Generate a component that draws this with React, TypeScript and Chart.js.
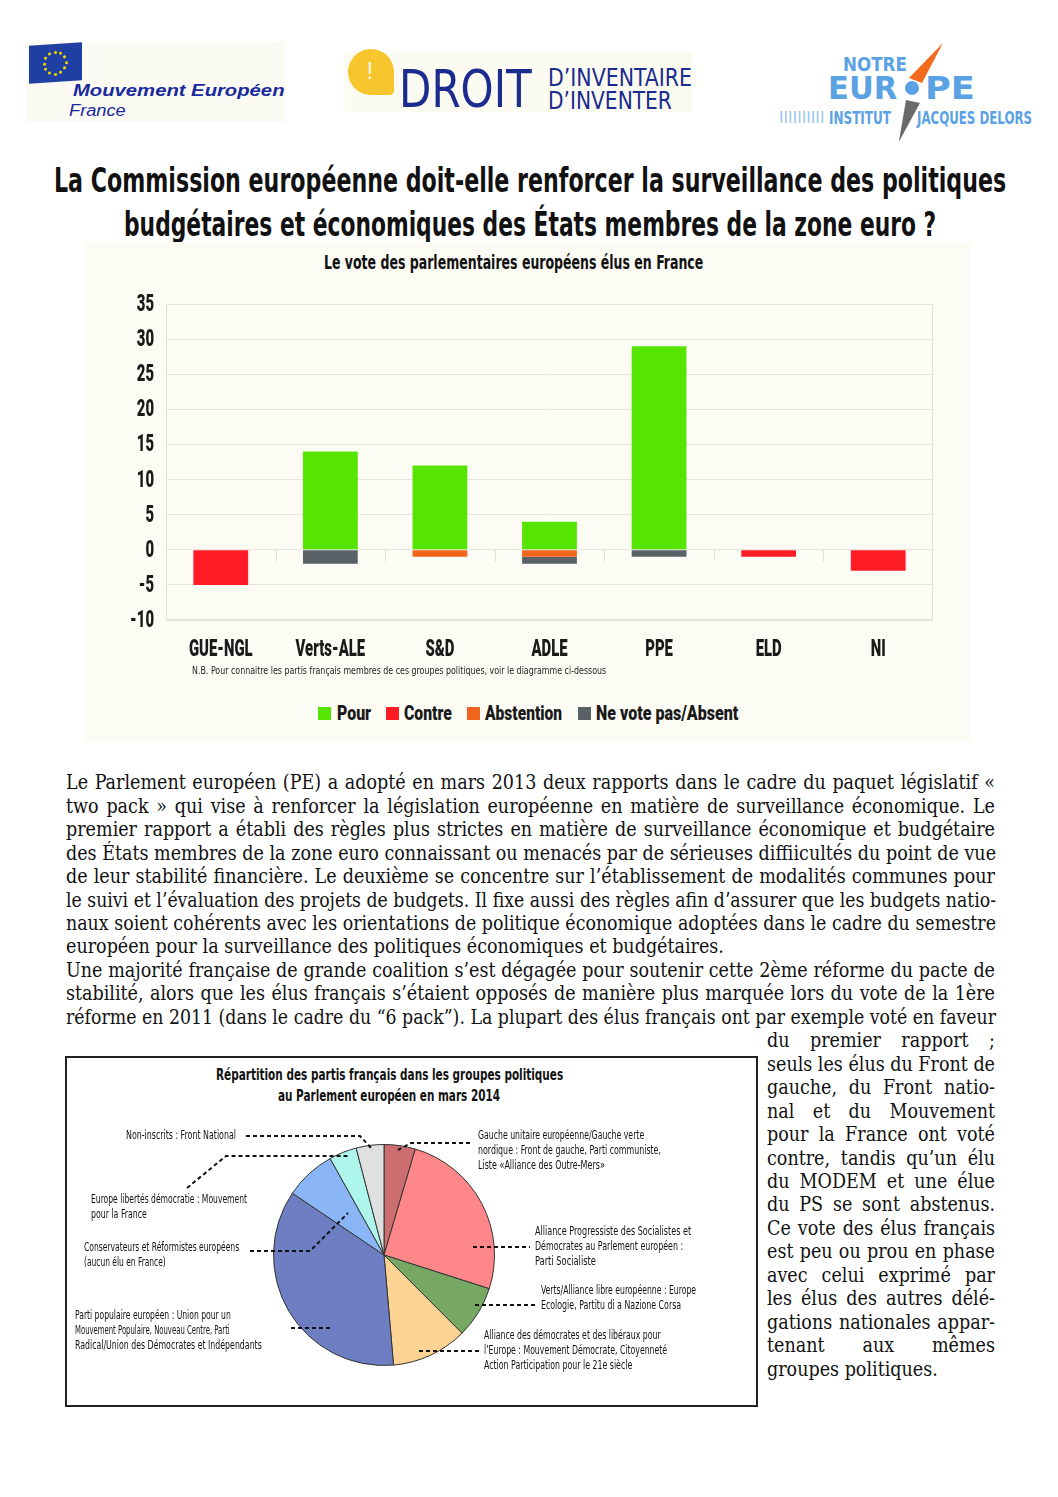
import React, { useEffect, useLayoutEffect, useRef, useState } from "react";
import { Chart, registerables } from "chart.js";
Chart.register(...registerables);

// ---------- DATA ----------
const groups = ["GUE-NGL", "Verts-ALE", "S&D", "ADLE", "PPE", "ELD", "NI"];
const pour = [0, 14, 12, 4, 29, 0, 0];
const contre = [-5, 0, 0, 0, 0, -1, -3];
const abstention = [0, 0, -1, -1, 0, 0, 0];
const absent = [0, -2, 0, -1, -1, 0, 0];
const seriesNames = ["Pour", "Contre", "Abstention", "Ne vote pas/Absent"];
const seriesColors = ["#55e500", "#ff1c24", "#f0641e", "#596066"];
const yMin = -10;
const yMax = 35;
const yStep = 5;

const pieGroups = ["GUE/NGL", "S&D", "Verts/ALE", "ADLE", "PPE", "CRE", "ELD", "NI"];
const pieSeats = [35, 194, 58, 85, 274, 57, 31, 31];
const pieColors = ["#cc6d6f", "#ff878a", "#76a864", "#fdd393", "#6e7ec2", "#8ab6f8", "#aef6ec", "#dfe1e1"];

// ---------- STYLE CONSTANTS ----------
const NARROW = '"Liberation Sans Narrow", "DejaVu Sans Condensed", "Arial Narrow", sans-serif';
const SANS = '"Liberation Sans", Arial, sans-serif';
const SERIF = '"DejaVu Serif Condensed", "DejaVu Serif", serif';
const CANVAS_FONT = '900 24px Roboto, "DejaVu Sans", sans-serif';
const SQUEEZE = 0.62;

function whenFonts(cb: () => void) {
  const fl = (document as any).fonts;
  if (fl && fl.load) {
    fl.load(CANVAS_FONT).then(cb, cb);
  } else cb();
}

type FitProps = {
  x: number; y: number; w: number; size: number; text: string;
  weight?: number | string; italic?: boolean; color?: string; family?: string;
};
function Fit({ x, y, w, size, text, weight = 400, italic = false, color = "#111", family = NARROW }: FitProps) {
  const ref = useRef<HTMLSpanElement>(null);
  const [k, setK] = useState(1);
  useLayoutEffect(() => {
    if (ref.current) {
      const n = ref.current.offsetWidth;
      if (n > 0) setK(w / n);
    }
  }, [text, w, size]);
  return (
    <span
      ref={ref}
      style={{
        position: "absolute", left: x, top: y - size * 0.6, fontSize: size,
        lineHeight: `${size * 1.2}px`, whiteSpace: "nowrap", fontWeight: weight as any,
        fontStyle: italic ? "italic" : "normal", color, fontFamily: family,
        transform: `scaleX(${k})`, transformOrigin: "left center",
      }}
    >{text}</span>
  );
}

function JLine({ x, y, w, text, justify = true, size = 19.5 }: { x: number; y: number; w: number; text: string; justify?: boolean; size?: number }) {
  const ref = useRef<HTMLSpanElement>(null);
  const [k, setK] = useState(1);
  useLayoutEffect(() => {
    if (ref.current) {
      const n = ref.current.offsetWidth;
      setK(n > w ? w / n : 1);
    }
  }, [text, w]);
  return (
    <div
      style={{
        position: "absolute", left: x, top: y - size * 0.6, width: k < 1 ? w / k + 1 : w,
        transform: `scaleX(${k})`, transformOrigin: "left center",
        textAlign: justify ? "justify" : "left", textAlignLast: justify ? "justify" : "left",
        whiteSpace: "nowrap", fontFamily: SERIF, fontSize: size, lineHeight: `${size * 1.2}px`, color: "#111",
      } as any}
    ><span ref={ref}>{text}</span></div>
  );
}

const leftLines = [
  "Le Parlement européen (PE) a adopté en mars 2013 deux rapports dans le cadre du paquet législatif «",
  "two pack » qui vise à renforcer la législation européenne en matière de surveillance économique. Le",
  "premier rapport a établi des règles plus strictes en matière de surveillance économique et budgétaire",
  "des États membres de la zone euro connaissant ou menacés par de sérieuses diffiicultés du point de vue",
  "de leur stabilité financière. Le deuxième se concentre sur l’établissement de modalités communes pour",
  "le suivi et l’évaluation des projets de budgets. Il fixe aussi des règles afin d’assurer que les budgets natio-",
  "naux soient cohérents avec les orientations de politique économique adoptées dans le cadre du semestre",
  "européen pour la surveillance des politiques économiques et budgétaires.",
  "Une majorité française de grande coalition s’est dégagée pour soutenir cette 2ème réforme du pacte de",
  "stabilité, alors que les élus français s’étaient opposés de manière plus marquée lors du vote de la 1ère",
  "réforme en 2011 (dans le cadre du “6 pack”). La plupart des élus français ont par exemple voté en faveur",
];
const rightLines = [
  "du premier rapport ;",
  "seuls les élus du Front de",
  "gauche, du Front natio-",
  "nal et du Mouvement",
  "pour la France ont voté",
  "contre, tandis qu’un élu",
  "du MODEM et une élue",
  "du PS se sont abstenus.",
  "Ce vote des élus français",
  "est peu ou prou en phase",
  "avec celui exprimé par",
  "les élus des autres délé-",
  "gations nationales appar-",
  "tenant aux mêmes",
  "groupes politiques.",
];

// pie callout labels (layout only)
const pieLabels: { x: number; y: number; lines: [string, number][] }[] = [
  { x: 126, y: 1136, lines: [["Non-inscrits : Front National", 110]] },
  { x: 478, y: 1136, lines: [["Gauche unitaire européenne/Gauche verte", 166], ["nordique : Front de gauche, Parti communiste,", 183], ["Liste «Alliance des Outre-Mers»", 127]] },
  { x: 91, y: 1200, lines: [["Europe libertés démocratie : Mouvement", 156], ["pour la France", 56]] },
  { x: 84, y: 1248, lines: [["Conservateurs et Réformistes européens", 155], ["(aucun élu en France)", 82]] },
  { x: 75, y: 1316, lines: [["Parti populaire européen : Union pour un", 156], ["Mouvement Populaire, Nouveau Centre, Parti", 155], ["Radical/Union des Démocrates et Indépendants", 187]] },
  { x: 535, y: 1232, lines: [["Alliance Progressiste des Socialistes et", 156], ["Démocrates au Parlement européen :", 148], ["Parti Socialiste", 61]] },
  { x: 541, y: 1291, lines: [["Verts/Alliance libre européenne : Europe", 155], ["Ecologie, Partitu di a Nazione Corsa", 140]] },
  { x: 484, y: 1336, lines: [["Alliance des démocrates et des libéraux pour", 177], ["l’Europe : Mouvement Démocrate, Citoyenneté", 183], ["Action Participation pour le 21e siècle", 148]] },
];
const leaders: number[][][] = [
  [[246, 1136], [360, 1136], [373, 1150]],
  [[470, 1143], [411, 1143], [398, 1150]],
  [[187, 1188], [226, 1156], [350, 1156]],
  [[250, 1251], [310, 1251], [348, 1213]],
  [[291, 1328], [332, 1328]],
  [[473, 1247], [530, 1247]],
  [[475, 1305], [536, 1305]],
  [[419, 1351], [480, 1351]],
];

// legend layout (HTML)
const legendBoxX = [318, 386, 467, 578];
const legendTextX = [337, 404, 485, 596];
const legendTextW = [34, 48, 77, 142];

const BAR_X = 85, BAR_Y = 281, BAR_W = 885, BAR_H = 420;
const PIE_X = 68, PIE_Y = 1059, PIE_W = 687, PIE_H = 345;

function squeezedText(ctx: CanvasRenderingContext2D, text: string, x: number, y: number, align: CanvasTextAlign) {
  ctx.save();
  ctx.translate(x, y);
  ctx.scale(SQUEEZE, 1);
  ctx.font = CANVAS_FONT;
  ctx.fillStyle = "#1a1a1a";
  ctx.textAlign = align;
  ctx.textBaseline = "middle";
  ctx.fillText(text, 0, 0);
  ctx.restore();
}

function BarChart() {
  const ref = useRef<HTMLCanvasElement>(null);
  useEffect(() => {
    let chart: Chart | null = null;
    let cancelled = false;
    const deco = {
      id: "barDeco",
      beforeDatasetsDraw(c: any) {
        const { ctx, chartArea: a, scales } = c;
        ctx.save();
        ctx.strokeStyle = "#e2e2da";
        ctx.lineWidth = 1;
        ctx.strokeRect(a.left + 0.5, a.top + 0.5, a.width - 1, a.height - 1);
        const y0 = scales.y.getPixelForValue(0);
        for (let i = 1; i < groups.length; i++) {
          const px = Math.round((scales.x.getPixelForValue(i - 1) + scales.x.getPixelForValue(i)) / 2) + 0.5;
          ctx.beginPath();
          ctx.moveTo(px, y0);
          ctx.lineTo(px, y0 + 12);
          ctx.stroke();
        }
        ctx.restore();
      },
      afterDraw(c: any) {
        const { ctx, chartArea: a, scales } = c;
        (c.data.labels as string[]).forEach((lbl, i) => {
          squeezedText(ctx, lbl, scales.x.getPixelForValue(i), a.bottom + 30, "center");
        });
        scales.y.ticks.forEach((t: any) => {
          squeezedText(ctx, String(t.value), a.left - 12, scales.y.getPixelForValue(t.value) + 1, "right");
        });
      },
    };
    const make = () => {
      if (cancelled || !ref.current) return;
      chart = new Chart(ref.current, {
        type: "bar",
        data: {
          labels: groups,
          datasets: [pour, contre, abstention, absent].map((d, i) => ({
            label: seriesNames[i],
            data: d,
            backgroundColor: seriesColors[i],
            borderWidth: 0,
            barPercentage: 0.5,
            categoryPercentage: 1,
          })),
        },
        options: {
          animation: false,
          responsive: false,
          layout: { padding: { top: 23, right: 37, left: 0, bottom: 0 } },
          plugins: {
            legend: { display: false },
            tooltip: { enabled: false },
          },
          scales: {
            x: {
              stacked: true,
              grid: { display: false, drawTicks: false },
              border: { display: false },
              ticks: { display: false },
              afterFit: (s: any) => { s.height = 81; },
            },
            y: {
              stacked: true,
              min: yMin,
              max: yMax,
              grid: { color: "#e6e6de", drawTicks: false },
              border: { display: false },
              ticks: { stepSize: yStep, display: false },
              afterFit: (s: any) => { s.width = 81; },
            },
          },
        },
        plugins: [deco],
      });
    };
    whenFonts(make);
    return () => { cancelled = true; if (chart) chart.destroy(); };
  }, []);
  return <canvas ref={ref} width={BAR_W} height={BAR_H} style={{ position: "absolute", left: BAR_X, top: BAR_Y, width: BAR_W, height: BAR_H }} />;
}

function PieChart() {
  const ref = useRef<HTMLCanvasElement>(null);
  useEffect(() => {
    if (!ref.current) return;
    const lines = {
      id: "leaders",
      afterDraw(c: any) {
        const ctx = c.ctx;
        ctx.save();
        ctx.strokeStyle = "#111";
        ctx.lineWidth = 2;
        ctx.setLineDash([4, 3]);
        leaders.forEach((pts) => {
          ctx.beginPath();
          pts.forEach(([px, py], i) => {
            const cx = px - PIE_X, cy = py - PIE_Y;
            if (i === 0) ctx.moveTo(cx, cy); else ctx.lineTo(cx, cy);
          });
          ctx.stroke();
        });
        ctx.restore();
      },
    };
    const chart = new Chart(ref.current, {
      type: "pie",
      data: {
        labels: pieGroups,
        datasets: [{ data: pieSeats, backgroundColor: pieColors, borderColor: "#333", borderWidth: 1 }],
      },
      options: {
        animation: false,
        responsive: false,
        layout: { padding: { left: 205, right: 260, top: 85, bottom: 38 } },
        plugins: { legend: { display: false }, tooltip: { enabled: false } },
      },
      plugins: [lines],
    });
    return () => chart.destroy();
  }, []);
  return <canvas ref={ref} width={PIE_W} height={PIE_H} style={{ position: "absolute", left: PIE_X, top: PIE_Y, width: PIE_W, height: PIE_H }} />;
}

function Logos() {
  const stars = Array.from({ length: 12 }, (_, i) => i);
  return (
    <>
      {/* Mouvement Européen */}
      <div style={{ position: "absolute", left: 27, top: 42, width: 258, height: 80, background: "#fbfbf4" }} />
      <div style={{ position: "absolute", left: 29, top: 44, width: 53, height: 38, background: "#1f3fa3", transform: "skewY(-4deg)" }}>
        {stars.map((i) => {
          const a = (i / 12) * Math.PI * 2;
          return <div key={i} style={{ position: "absolute", left: 26 + 11 * Math.cos(a) - 1.5, top: 19 + 11 * Math.sin(a) - 1.5, width: 3, height: 3, background: "#f5d800", borderRadius: 2 }} />;
        })}
      </div>
      <Fit x={73} y={91} w={212} size={17} text="Mouvement Européen" weight="bold" italic color="#1a2a9c" family={SANS} />
      <Fit x={69} y={111} w={57} size={16} text="France" italic color="#1a2a9c" family={SANS} />

      {/* Droit d'inventaire */}
      <div style={{ position: "absolute", left: 345, top: 52, width: 347, height: 60, background: "#fcfbf1" }} />
      <div style={{ position: "absolute", left: 348, top: 49, width: 46, height: 46, background: "#f7c62f", borderRadius: "50% 50% 10% 50%" }} />
      <Fit x={367} y={71} w={6} size={24} text="!" color="#ffffff" family={SANS} />
      <Fit x={399} y={89} w={133} size={52} text="DROIT" color="#1b2b8e" family={NARROW} />
      <Fit x={548} y={78} w={144} size={25} text="D’INVENTAIRE" color="#1b2b8e" family={NARROW} />
      <Fit x={548} y={101} w={124} size={25} text="D’INVENTER" color="#1b2b8e" family={NARROW} />

      {/* Notre Europe */}
      <div style={{ position: "absolute", left: 900, top: 40, width: 50, height: 50, background: "#f26b1d", clipPath: "polygon(86% 6%, 44% 86%, 18% 76%)" }} />
      <div style={{ position: "absolute", left: 890, top: 96, width: 40, height: 50, background: "#6b6b6b", clipPath: "polygon(40% 8%, 75% 14%, 22% 92%)" }} />
      <Fit x={843} y={64} w={64} size={20} text="NOTRE" weight="bold" color="#5aa2e4" family={NARROW} />
      <Fit x={828} y={88} w={69} size={32} text="EUR" weight="bold" color="#5aa2e4" family={NARROW} />
      <div style={{ position: "absolute", left: 905, top: 81, width: 14, height: 14, borderRadius: 7, background: "#5aa2e4" }} />
      <Fit x={925} y={88} w={50} size={32} text="PE" weight="bold" color="#5aa2e4" family={NARROW} />
      <Fit x={779} y={118} w={45} size={16} text="IIIIIIIIII" color="#9cc6ec" family={NARROW} />
      <Fit x={829} y={118} w={62} size={17} text="INSTITUT" weight="bold" color="#5aa2e4" family={NARROW} />
      <Fit x={917} y={118} w={115} size={17} text="JACQUES DELORS" weight="bold" color="#5aa2e4" family={NARROW} />
    </>
  );
}

export default function App() {
  return (
    <div style={{ position: "absolute", left: 0, top: 0, width: 1058, height: 1497, background: "#ffffff", overflow: "hidden" }}>
      <Logos />
      <Fit x={54} y={180} w={952} size={34} weight="bold" color="#111" text="La Commission européenne doit-elle renforcer la surveillance des politiques" />
      <Fit x={124} y={224} w={812} size={34} weight="bold" color="#111" text="budgétaires et économiques des États membres de la zone euro ?" />

      <div style={{ position: "absolute", left: 85, top: 242, width: 885, height: 500, background: "#fcfcf5" }} />
      <Fit x={324} y={262} w={379} size={19} weight="bold" color="#111" text="Le vote des parlementaires européens élus en France" />
      <BarChart />
      <Fit x={192} y={671} w={414} size={11} color="#222" text="N.B. Pour connaitre les partis français membres de ces groupes politiques, voir le diagramme ci-dessous" />
      {seriesNames.map((n, i) => (
        <React.Fragment key={"lg" + i}>
          <div style={{ position: "absolute", left: legendBoxX[i], top: 707, width: 13, height: 13, background: seriesColors[i] }} />
          <Fit x={legendTextX[i]} y={714} w={legendTextW[i]} size={21} weight={900} color="#1a1a1a" text={n} family='Roboto, "DejaVu Sans", sans-serif' />
        </React.Fragment>
      ))}

      {leftLines.map((t, i) => (
        <JLine key={"l" + i} x={66} y={783 + i * 23.45} w={929} text={t} justify={i !== 7} />
      ))}
      {rightLines.map((t, i) => (
        <JLine key={"r" + i} x={767} y={783 + (i + 11) * 23.45} w={228} text={t} justify={i !== rightLines.length - 1} />
      ))}

      <div style={{ position: "absolute", left: 65, top: 1056, width: 689, height: 347, border: "2px solid #222" }} />
      <Fit x={216} y={1075} w={347} size={15} weight="bold" color="#111" text="Répartition des partis français dans les groupes politiques" />
      <Fit x={278} y={1096} w={222} size={15} weight="bold" color="#111" text="au Parlement européen en mars 2014" />
      <PieChart />
      {pieLabels.map((lb, i) =>
        lb.lines.map(([t, w], j) => (
          <Fit key={`p${i}-${j}`} x={lb.x} y={lb.y + j * 15} w={w} size={11.5} color="#111" text={t} />
        ))
      )}
    </div>
  );
}
